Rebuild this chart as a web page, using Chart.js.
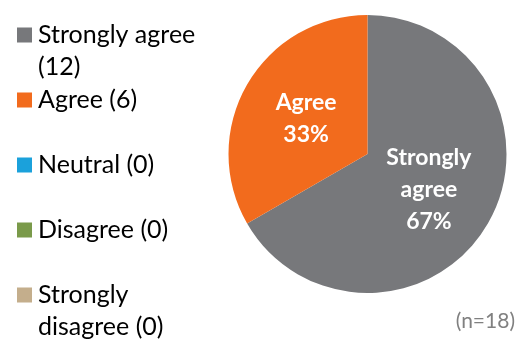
<!DOCTYPE html>
<html>
<head>
<meta charset="utf-8">
<script src="https://cdn.jsdelivr.net/npm/chart.js@4"></script>
<style>
  html, body { margin: 0; padding: 0; background: #fff; }
  #wrap { width: 525px; height: 339px; position: relative; }
</style>
</head>
<body>
<div id="wrap"><canvas id="c" width="525" height="339"></canvas></div>
<script>
const categories = ['Strongly agree', 'Agree', 'Neutral', 'Disagree', 'Strongly disagree'];
const counts = [12, 6, 0, 0, 0];
const colors = ['#77787B', '#F26B1D', '#1BA1DB', '#7A9A4A', '#C4AE8C'];
const sampleNote = '(n=18)';

const FONT = 'Lato, "Open Sans", sans-serif';

function wrapText(ctx, text, maxW) {
  const words = text.split(' ');
  const lines = [];
  let cur = '';
  for (const w of words) {
    const t = cur ? cur + ' ' + w : w;
    if (ctx.measureText(t).width > maxW && cur) { lines.push(cur); cur = w; }
    else cur = t;
  }
  if (cur) lines.push(cur);
  return lines;
}

const overlay = {
  id: 'overlay',
  afterDraw(chart) {
    const ctx = chart.ctx;
    const ds = chart.data.datasets[0];
    const total = ds.data.reduce((a, b) => a + b, 0);
    ctx.save();
    // slice labels
    const meta = chart.getDatasetMeta(0);
    ctx.fillStyle = '#fff';
    ctx.font = 'bold 23px ' + FONT;
    ctx.textAlign = 'center';
    ctx.textBaseline = 'middle';
    meta.data.forEach((arc, i) => {
      const v = ds.data[i];
      if (!v) return;
      const p = arc.getProps(['x', 'y', 'startAngle', 'endAngle', 'outerRadius'], true);
      const mid = (p.startAngle + p.endAngle) / 2;
      const r = p.outerRadius * 0.51;
      const cx = p.x + Math.cos(mid) * r;
      const cy = p.y + Math.sin(mid) * r;
      const lines = chart.data.labels[i].split(' ');
      lines.push(Math.round(v / total * 100) + '%');
      const lh = 32;
      const y0 = cy - (lines.length - 1) * lh / 2;
      lines.forEach((t, k) => ctx.fillText(t, cx, y0 + k * lh));
    });
    // legend
    ctx.font = '25px ' + FONT;
    ctx.textAlign = 'left';
    ctx.textBaseline = 'middle';
    chart.data.labels.forEach((lab, i) => {
      const y = 35 + i * 65;
      ctx.fillStyle = ds.backgroundColor[i];
      ctx.fillRect(17, y - 7.5, 15, 15);
      ctx.fillStyle = '#000';
      const lines = wrapText(ctx, lab + ' (' + ds.data[i] + ')', 170);
      lines.forEach((t, k) => ctx.fillText(t, 38, y + k * 32));
    });
    // sample size note
    ctx.font = '21px ' + FONT;
    ctx.fillStyle = '#808080';
    ctx.textAlign = 'right';
    ctx.fillText(sampleNote, 515, 321);
    ctx.restore();
  }
};

new Chart(document.getElementById('c'), {
  type: 'pie',
  data: {
    labels: categories,
    datasets: [{ data: counts, backgroundColor: colors, borderWidth: 0 }]
  },
  options: {
    responsive: false,
    devicePixelRatio: 1,
    animation: false,
    layout: { padding: { left: 228, right: 18, top: 15, bottom: 46 } },
    plugins: { legend: { display: false }, tooltip: { enabled: false } }
  },
  plugins: [overlay]
});
</script>
</body>
</html>
